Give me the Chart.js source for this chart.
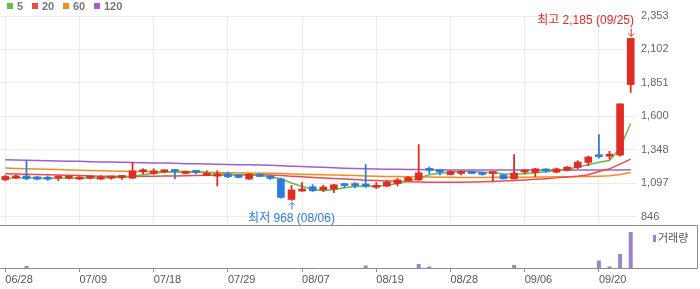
<!DOCTYPE html>
<html>
<head>
<meta charset="utf-8">
<script src="https://cdn.jsdelivr.net/npm/chart.js@4.4.1/dist/chart.umd.min.js"></script>
<style>
  html, body { margin: 0; padding: 0; background: #fff; }
  #wrap { position: relative; width: 700px; height: 289px; overflow: hidden; }
  #priceChart { position: absolute; left: 0; top: 0; }
  #volChart { position: absolute; left: 0; top: 225px; }
</style>
</head>
<body>
<div id="wrap">
  <canvas id="priceChart" width="700" height="225"></canvas>
  <canvas id="volChart" width="700" height="64"></canvas>
</div>
<script>
// daily candles, 06/28 ~ 09/25
const dates = ['06/28','07/01','07/02','07/03','07/04','07/05','07/08','07/09','07/10','07/11',
  '07/12','07/15','07/16','07/17','07/18','07/19','07/22','07/23','07/24','07/25',
  '07/26','07/29','07/30','07/31','08/01','08/02','08/05','08/06','08/07','08/08',
  '08/09','08/12','08/13','08/14','08/16','08/19','08/20','08/21','08/22','08/23',
  '08/26','08/27','08/28','08/29','08/30','09/02','09/03','09/04','09/05','09/06',
  '09/09','09/10','09/11','09/12','09/13','09/19','09/20','09/23','09/24','09/25'];
const opens  = [1123,1136,1152,1145,1138,1136,1136,1128,1137,1128, 1136,1140,1135,1183,1170,1183,1198,1170,1181,1156,
  1150,1168,1160,1128,1165,1152,1130,975,1038,1070, 1048,1053,1082,1082,1080,1066,1075,1093,1115,1122,
  1198,1198,1162,1170,1186,1178,1170,1160,1130,1181, 1178,1192,1180,1193,1215,1253,1310,1300,1308,1838];
const highs  = [1155,1158,1265,1150,1150,1140,1145,1150,1148,1155, 1148,1153,1253,1205,1205,1195,1200,1188,1192,1190,
  1190,1180,1162,1168,1168,1155,1135,1080,1102,1085, 1080,1088,1095,1102,1236,1102,1117,1132,1147,1386,
  1218,1200,1190,1190,1188,1180,1185,1162,1311,1200, 1208,1205,1210,1222,1266,1300,1462,1336,1693,2185];
const lows   = [1115,1132,1122,1122,1118,1117,1128,1125,1130,1125, 1127,1125,1132,1168,1163,1175,1132,1168,1168,1155,
  1077,1140,1138,1126,1145,1126,985,968,1035,1035, 1035,1027,1063,1062,1065,1057,1072,1077,1112,1117,
  1170,1160,1160,1160,1168,1158,1110,1128,1128,1168, 1147,1178,1175,1190,1205,1228,1286,1278,1300,1780];
const closes = [1148,1152,1130,1127,1127,1138,1139,1143,1140,1143, 1139,1143,1190,1186,1190,1186,1185,1182,1178,1165,
  1153,1145,1140,1165,1148,1133,990,1047,1040,1040, 1068,1085,1079,1079,1076,1080,1105,1122,1140,1175,
  1194,1180,1185,1185,1170,1162,1173,1130,1173,1185, 1205,1189,1205,1218,1256,1294,1296,1304,1693,2185];

// moving averages
const ma5   = [1135,1137,1138,1137,1135,1134,1135,1135,1136,1137, 1138,1140,1150,1160,1172,1180,1186,1185,1184,1180,
  1172,1165,1160,1158,1155,1148,1128,1098,1072,1052, 1040,1050,1062,1072,1076,1075,1082,1095,1112,1135,
  1160,1172,1180,1185,1185,1180,1175,1168,1165,1168, 1176,1183,1192,1202,1218,1236,1254,1268,1362,1545];
const ma20  = [1168,1166,1164,1162,1160,1158,1156,1154,1152,1150, 1149,1148,1148,1149,1150,1151,1152,1153,1155,1156,
  1157,1158,1160,1162,1161,1159,1155,1150,1145,1140, 1136,1132,1128,1124,1120,1117,1114,1111,1108,1106,
  1105,1104,1104,1105,1106,1108,1110,1113,1117,1121, 1126,1131,1137,1143,1150,1160,1185,1205,1240,1278];
const ma60  = [1211,1208,1206,1203,1201,1199,1197,1194,1192,1190, 1188,1186,1185,1184,1183,1182,1181,1180,1179,1178,
  1177,1176,1175,1174,1173,1172,1170,1167,1164,1162, 1160,1158,1156,1154,1152,1150,1148,1147,1145,1144,
  1143,1142,1141,1140,1140,1140,1141,1141,1142,1142, 1143,1144,1145,1146,1147,1148,1150,1153,1163,1178];
const ma120 = [1273,1271,1269,1268,1266,1264,1262,1261,1259,1257, 1256,1254,1253,1251,1249,1248,1246,1244,1243,1241,
  1240,1238,1236,1235,1233,1231,1228,1225,1222,1219, 1216,1213,1210,1208,1206,1204,1202,1201,1200,1199,
  1198,1197,1197,1196,1196,1196,1196,1196,1196,1196, 1196,1196,1196,1196,1196,1196,1196,1196,1197,1198];

// volume: only the days with a visible bar
const volumes = [0,0,2000,0,0,0,0,0,0,0, 0,0,0,0,0,0,0,0,0,0,
  0,0,0,0,0,0,0,0,0,0, 0,0,0,0,2500,0,0,0,0,4000,
  1500,0,0,0,0,0,0,0,3000,0, 0,0,0,0,0,0,7500,1500,14000,36000];

const priceTicks = [846, 1097, 1348, 1600, 1851, 2102, 2353];
const dateTicks = ['06/28','07/09','07/18','07/29','08/07','08/19','08/28','09/06','09/20'];
const maNames = ['5', '20', '60', '120'];
const maColors = ['#64bd44', '#ef4a4a', '#f68a20', '#a35cd2'];

const UP = '#e22b22', DOWN = '#2c7be0', VOL = '#9b84c9';
const FONT = '"Liberation Sans", "Noto Sans CJK KR", sans-serif';
const candleColor = ctx => closes[ctx.dataIndex] >= opens[ctx.dataIndex] ? UP : DOWN;
const keepDateTicks = scale => {
  scale.ticks = scale.ticks.filter(t => dateTicks.includes(dates[t.value]));
};
const noPad = s => { s.paddingTop = 0; s.paddingBottom = 0; s.paddingLeft = 0; s.paddingRight = 0; };
const fmt = v => v.toLocaleString('en-US');

// legend on top + high/low markers
const pricePlugin = {
  id: 'priceExtras',
  afterDatasetsDraw(chart) {
    const c = chart.ctx, xs = chart.scales.x, ys = chart.scales.y;
    c.save();
    // legend
    c.font = 'bold 11px ' + FONT;
    c.textBaseline = 'middle';
    const lx = [7, 32, 63, 94];
    maNames.forEach((n, i) => {
      c.fillStyle = maColors[i];
      c.fillRect(lx[i], 3, 6, 6);
      c.fillStyle = '#777';
      c.fillText(n, lx[i] + 10, 6.5);
    });
    // highest
    const hi = highs.indexOf(Math.max(...highs));
    let x = xs.getPixelForValue(hi), y = ys.getPixelForValue(highs[hi]);
    c.strokeStyle = UP; c.lineWidth = 1;
    c.beginPath();
    c.moveTo(x + 0.5, y - 10); c.lineTo(x + 0.5, y - 2);
    c.moveTo(x - 2.5, y - 5); c.lineTo(x + 0.5, y - 2); c.lineTo(x + 3.5, y - 5);
    c.stroke();
    c.font = '12px ' + FONT;
    c.fillStyle = UP;
    c.textAlign = 'right';
    c.fillText('최고 ' + fmt(highs[hi]) + ' (' + dates[hi] + ')', chart.chartArea.right - 2, y - 18);
    // lowest
    const lo = lows.indexOf(Math.min(...lows));
    x = xs.getPixelForValue(lo); y = ys.getPixelForValue(lows[lo]);
    c.strokeStyle = DOWN;
    c.beginPath();
    c.moveTo(x + 0.5, y + 9); c.lineTo(x + 0.5, y + 2);
    c.moveTo(x - 2.5, y + 5); c.lineTo(x + 0.5, y + 2); c.lineTo(x + 3.5, y + 5);
    c.stroke();
    c.fillStyle = DOWN;
    c.textAlign = 'center';
    c.fillText('최저 ' + fmt(lows[lo]) + ' (' + dates[lo] + ')', x, y + 18);
    c.restore();
  }
};

new Chart(document.getElementById('priceChart'), {
  type: 'bar',
  data: {
    labels: dates,
    datasets: [
      ...[ma5, ma20, ma60, ma120].map((d, i) => ({
        type: 'line', label: maNames[i], data: d, borderColor: maColors[i],
        borderWidth: 1.5, pointRadius: 0, tension: 0, order: 5 + i
      })),
      { label: 'wick', data: dates.map((d, i) => [lows[i], highs[i]]), backgroundColor: candleColor,
        barThickness: 1, grouped: false, inflateAmount: 0.4, order: 1 },
      { label: 'body', data: dates.map((d, i) => [opens[i], closes[i]]), backgroundColor: candleColor,
        barThickness: 7, minBarLength: 2, grouped: false, order: 0 }
    ]
  },
  options: {
    responsive: false, animation: false, devicePixelRatio: 1,
    layout: { padding: { top: 16, left: 0, right: 0, bottom: 0 } },
    plugins: { legend: { display: false }, tooltip: { enabled: false } },
    scales: {
      x: {
        offset: true,
        grid: { offset: false, color: '#ececec', drawTicks: false },
        border: { display: false },
        ticks: { display: false, autoSkip: false },
        afterBuildTicks: keepDateTicks,
        afterFit: s => { s.height = 0; noPad(s); }
      },
      y: {
        position: 'right', min: 783, max: 2353,
        afterBuildTicks: s => { s.ticks = priceTicks.map(v => ({ value: v })); },
        ticks: { callback: v => fmt(v), color: '#666', font: { family: FONT, size: 11 }, padding: 5 },
        grid: { color: '#ececec', drawTicks: false },
        border: { display: false },
        afterFit: s => { s.width = 64; noPad(s); }
      }
    }
  },
  plugins: [pricePlugin]
});

// volume panel frame + legend
const volPlugin = {
  id: 'volExtras',
  afterDraw(chart) {
    const c = chart.ctx, a = chart.chartArea;
    c.save();
    c.strokeStyle = '#8c8c8c'; c.lineWidth = 1;
    c.beginPath();
    c.moveTo(0, 0.5); c.lineTo(697.5, 0.5); c.lineTo(697.5, a.bottom + 0.5); c.lineTo(a.right, a.bottom + 0.5);
    c.stroke();
    c.fillStyle = VOL;
    c.fillRect(653, 10, 3, 7);
    c.fillStyle = '#555';
    c.font = '11px ' + FONT;
    c.textBaseline = 'middle';
    c.fillText('거래량', 658, 13.5);
    c.restore();
  }
};

new Chart(document.getElementById('volChart'), {
  type: 'bar',
  data: {
    labels: dates,
    datasets: [{ label: '거래량', data: volumes, backgroundColor: VOL, barThickness: 4, inflateAmount: 0 }]
  },
  options: {
    responsive: false, animation: false, devicePixelRatio: 1,
    layout: { padding: { top: 1, left: 0, right: 64, bottom: 0 } },
    plugins: { legend: { display: false }, tooltip: { enabled: false } },
    scales: {
      x: {
        offset: true,
        grid: { offset: false, drawOnChartArea: false, drawTicks: true, tickLength: 4, tickColor: '#8c8c8c' },
        border: { color: '#8c8c8c' },
        ticks: { autoSkip: false, maxRotation: 0, align: 'start', padding: 1, color: '#555',
          font: { family: FONT, size: 11 } },
        afterBuildTicks: keepDateTicks,
        afterFit: s => { s.height = 21; noPad(s); }
      },
      y: { display: false, min: 0, max: 42000 }
    }
  },
  plugins: [volPlugin]
});
</script>
</body>
</html>
